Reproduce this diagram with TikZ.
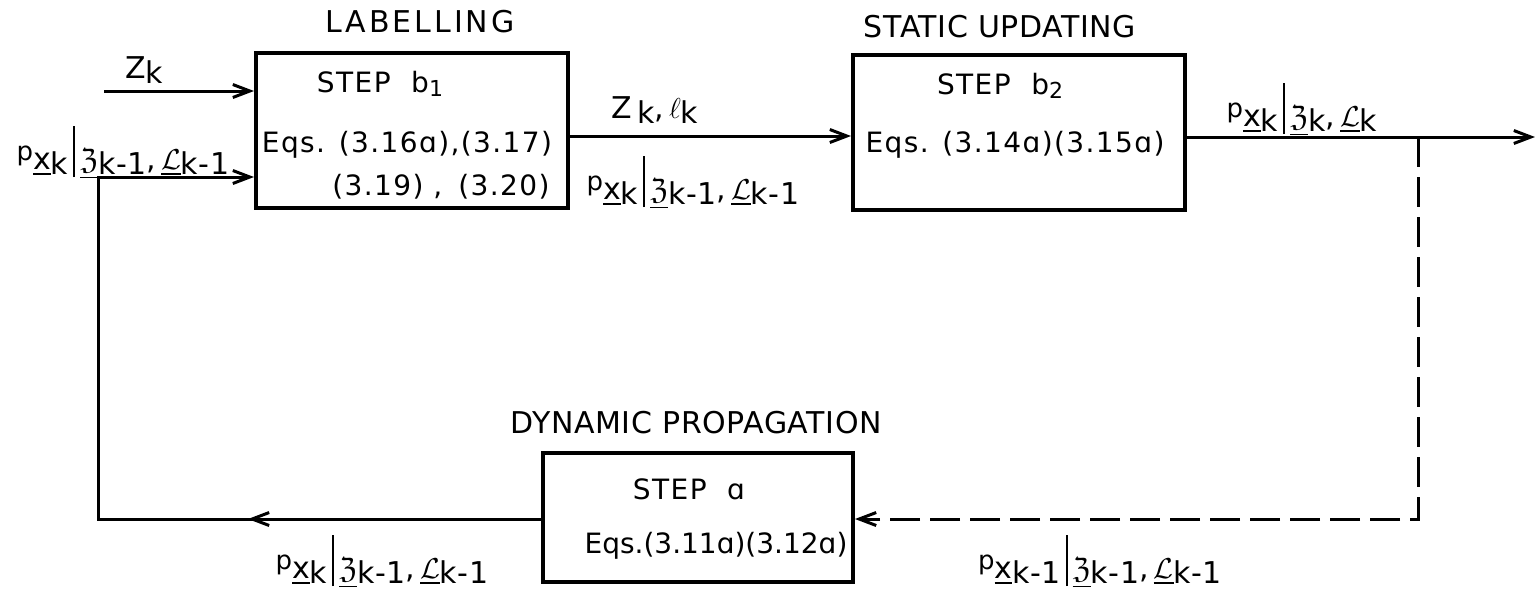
\documentclass[tikz,border=0pt]{standalone}
\usepackage{fontspec}
\usepackage{amssymb}
\setmainfont{DejaVu Sans}
\newfontfamily\titlefont[LetterSpace=2]{DejaVu Sans}
\newfontfamily\widetitlefont[LetterSpace=10]{DejaVu Sans}
\newfontfamily\boxfont[LetterSpace=5]{DejaVu Sans}
\newfontfamily\tightboxfont[LetterSpace=0]{DejaVu Sans}
\newfontfamily\labelfont[LetterSpace=2]{DejaVu Sans}
\usetikzlibrary{arrows.meta,decorations.markings}

% pieces of the conditional-density labels
\newcommand{\dP}{\raisebox{0.55ex}{\fontsize{13}{14}\selectfont p}}
\newcommand{\dX}{\underline{x}}
\newcommand{\dBar}{\rule[-0.45ex]{0.9pt}{3.1ex}}
\newcommand{\dZ}{\underline{$\mathfrak{Z}$}}
\newcommand{\dL}{\underline{$\mathcal{L}$}}
\newcommand{\dLow}[1]{\raisebox{-0.3ex}{#1}}
\newcommand{\dSub}[1]{\raisebox{-0.3ex}{\fontsize{11}{12}\selectfont #1}}
\newcommand{\dens}[3]{\dP\dX\dLow{#1}\,\dBar\,\dZ\dLow{#2},\,\dL\dLow{#3}}

\begin{document}
\begin{tikzpicture}[x=0.5pt,y=-0.5pt,
  box/.style={draw,line width=2pt,inner sep=0pt},
  conn/.style={line width=1.5pt},
  tip/.style={-{Straight Barb[length=8.5pt,width=6.5pt]}},
  ttl/.style={font=\titlefont\fontsize{15}{17}\selectfont,inner sep=0pt},
  btxt/.style={font=\boxfont\fontsize{14}{17}\selectfont,inner sep=0pt},
  lbl/.style={font=\labelfont\fontsize{15}{17}\selectfont,inner sep=0pt},
  dsh/.style={dash pattern=on 15pt off 5pt},
  midtip/.style={decoration={markings,
      mark=at position #1 with {\arrow{Straight Barb[length=8.5pt,width=6.5pt]}}},
    postaction={decorate}}
]
\useasboundingbox (0,0) rectangle (1535,591);

% processing blocks
\node[box,minimum width=156pt,minimum height=77.5pt] (b1) at (412,130.5) {};
\node[box,minimum width=166pt,minimum height=77.5pt] (b2) at (1019,132.5) {};
\node[box,minimum width=155pt,minimum height=64.5pt] (a) at (698,517.5) {};

% block titles
\node[ttl,font=\widetitlefont\fontsize{15}{17}\selectfont] (t1) at (420,22) {LABELLING};
\node[ttl] (t2) at (1000,27) {STATIC UPDATING};
\node[ttl] (t3) at (696,423) {DYNAMIC PROPAGATION};

% block contents
\node[btxt] (s1) at (380,84) {STEP\ \ b\dSub{1}};
\node[btxt] (e1a) at (407,145) {Eqs. (3.16ɑ),(3.17)};
\node[btxt,anchor=east] (e1b) at (550,187) {(3.19)\hspace{5pt},\hspace{8pt}(3.20)};
\node[btxt] (s2) at (1000,86) {STEP\ \ b\dSub{2}};
\node[btxt] (e2) at (1015,145) {Eqs. (3.14ɑ)(3.15ɑ)};
\node[btxt] (s3) at (689,489) {STEP\ \ ɑ};
\node[btxt,font=\tightboxfont\fontsize{14}{17}\selectfont] (e3) at (716,546) {Eqs.(3.11ɑ)(3.12ɑ)};

% signal labels
\node[lbl] (zk) at (144,70) {Z\dLow{k}};
\node[lbl] (pin) at (123,153) {\dens{k}{k-1}{k-1}};
\node[lbl] (zl) at (655,110) {Z\,\dLow{k},\,$\ell$\dLow{k}};
\node[lbl] (pmid) at (693,183) {\dens{k}{k-1}{k-1}};
\node[lbl] (pout) at (1302,110) {\dens{k}{k}{k}};
\node[lbl] (pbl) at (382,562) {\dens{k}{k-1}{k-1}};
\node[lbl] (pbr) at (1100,562) {\dens{k-1}{k-1}{k-1}};

% routing points
\coordinate (zin) at (104,91);
\coordinate (fbT) at (98,177);
\coordinate (fbL) at (98,519);
\coordinate (mid) at (700,136);
\coordinate (outE) at (1535,137);
\coordinate (tap) at (1418,137);
\coordinate (tapB) at (1418,519);

% connectors
\draw[conn,tip] (zin) -- (zin -| b1.west);
\draw[conn,tip,midtip=146.5pt] (a.west |- fbL) -- (fbL) -- (fbT) -- (fbT -| b1.west);
\draw[conn,tip] (b1.east |- mid) -- (b2.west |- mid);
\draw[conn,tip] (b2.east |- outE) -- (outE);
\draw[conn,dsh,tip] (tap) -- (tapB) -- (a.east |- tapB);
\end{tikzpicture}
\end{document}
